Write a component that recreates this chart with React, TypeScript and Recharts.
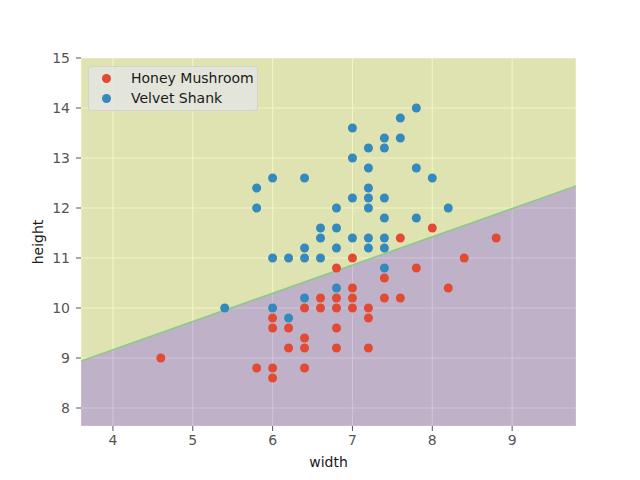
import React from "react";
import { ComposedChart, Area, Line, Scatter, XAxis, YAxis, CartesianGrid, Label } from "recharts";

const honeyWidth = [4.6, 5.8, 6.0, 6.0, 6.0, 6.0, 6.2, 6.2, 6.4, 6.4, 6.4, 6.4, 6.6, 6.6, 6.8, 6.8, 6.8, 6.8, 6.8, 7.0, 7.0, 7.0, 7.0, 7.2, 7.2, 7.2, 7.4, 7.4, 7.6, 7.6, 7.8, 8.0, 8.2, 8.4, 8.8];
const honeyHeight = [9.0, 8.8, 8.8, 8.6, 9.6, 9.8, 9.6, 9.2, 10.0, 9.4, 9.2, 8.8, 10.2, 10.0, 10.8, 10.2, 10.0, 9.6, 9.2, 11.0, 10.4, 10.2, 10.0, 10.0, 9.8, 9.2, 10.6, 10.2, 11.4, 10.2, 10.8, 11.6, 10.4, 11.0, 11.4];

const shankWidth = [5.4, 5.8, 5.8, 6.0, 6.0, 6.0, 6.2, 6.2, 6.4, 6.4, 6.4, 6.4, 6.6, 6.6, 6.6, 6.8, 6.8, 6.8, 6.8, 7.0, 7.0, 7.0, 7.0, 7.2, 7.2, 7.2, 7.2, 7.2, 7.2, 7.2, 7.4, 7.4, 7.4, 7.4, 7.4, 7.4, 7.4, 7.6, 7.6, 7.8, 7.8, 7.8, 8.0, 8.2];
const shankHeight = [10.0, 12.4, 12.0, 12.6, 11.0, 10.0, 11.0, 9.8, 12.6, 11.2, 11.0, 10.2, 11.6, 11.4, 11.0, 12.0, 11.6, 11.2, 10.4, 13.6, 13.0, 12.2, 11.4, 13.2, 12.8, 12.4, 12.2, 12.0, 11.4, 11.2, 13.4, 13.2, 12.2, 11.8, 11.4, 11.2, 10.8, 13.8, 13.4, 14.0, 12.8, 11.8, 12.6, 12.0];

const seriesNames = ["Honey Mushroom", "Velvet Shank"];
const seriesColors = ["#E24A33", "#348ABD"];

// decision boundary (end points)
const boundaryWidth = [3.6, 9.8];
const boundaryHeight = [8.94, 12.44];

const xTicks = [4, 5, 6, 7, 8, 9];
const yTicks = [8, 9, 10, 11, 12, 13, 14, 15];
const xDomain = [3.6, 9.8];
const yDomain = [7.64, 15];

const honey = honeyWidth.map((x, i) => ({ x, y: honeyHeight[i] }));
const shank = shankWidth.map((x, i) => ({ x, y: shankHeight[i] }));
const regions = boundaryWidth.map((x, i) => ({
  x,
  y: boundaryHeight[i],
  lower: [yDomain[0], boundaryHeight[i]],
  upper: [boundaryHeight[i], yDomain[1]],
}));

const font = "DejaVu Sans, sans-serif";
const tickStyle = { fill: "#555555", fontSize: 14, fontFamily: font };

const Dot = (color: string) => (props: any) => (
  <circle cx={props.cx} cy={props.cy} r={4.5} fill={color} />
);

export default function App() {
  return (
    <div style={{ position: "relative", width: 640, height: 480, fontFamily: font }}>
      <style>{"body{margin:0}"}</style>
      <ComposedChart width={640} height={480} margin={{ top: 58, right: 64, bottom: 0, left: 0 }}>
        <CartesianGrid fill="#E5E5E5" stroke="#ffffff" strokeWidth={1.1} />
        <XAxis
          type="number"
          dataKey="x"
          domain={xDomain}
          ticks={xTicks}
          allowDataOverflow
          height={54}
          axisLine={false}
          stroke="#555555"
          tickSize={5}
          tickMargin={4}
          tick={tickStyle}
        >
          <Label value="width" position="insideBottom" offset={13} fill="#1a1a1a" fontSize={14} fontFamily={font} />
        </XAxis>
        <YAxis
          type="number"
          dataKey="y"
          domain={yDomain}
          ticks={yTicks}
          allowDataOverflow
          width={81}
          axisLine={false}
          stroke="#555555"
          tickSize={5}
          tickMargin={6}
          tick={tickStyle}
        >
          <Label value="height" position="center" angle={-90} dx={-2} fill="#1a1a1a" fontSize={14} fontFamily={font} />
        </YAxis>
        <Area data={regions} dataKey="lower" type="linear" fill="#663b84" fillOpacity={0.3} stroke="none" isAnimationActive={false} />
        <Area data={regions} dataKey="upper" type="linear" fill="#d1de38" fillOpacity={0.3} stroke="none" isAnimationActive={false} />
        <Line data={regions} dataKey="y" type="linear" stroke="#8cc98a" strokeWidth={1.6} dot={false} isAnimationActive={false} />
        <Scatter name={seriesNames[0]} data={honey} fill={seriesColors[0]} shape={Dot(seriesColors[0])} isAnimationActive={false} />
        <Scatter name={seriesNames[1]} data={shank} fill={seriesColors[1]} shape={Dot(seriesColors[1])} isAnimationActive={false} />
      </ComposedChart>
      <div
        style={{
          position: "absolute",
          left: 88,
          top: 66,
          width: 170,
          height: 45,
          background: "rgba(229,229,229,0.8)",
          border: "1px solid #d3d3cc",
          borderRadius: 3,
          boxSizing: "border-box",
          padding: "1px 0 0 0",
        }}
      >
        {seriesNames.map((name, i) => (
          <div key={name} style={{ display: "flex", alignItems: "center", height: 20, fontSize: 14, color: "#1a1a1a" }}>
            <span
              style={{
                display: "inline-block",
                width: 9,
                height: 9,
                borderRadius: "50%",
                background: seriesColors[i],
                marginLeft: 13,
                marginRight: 20,
              }}
            />
            {name}
          </div>
        ))}
      </div>
    </div>
  );
}
